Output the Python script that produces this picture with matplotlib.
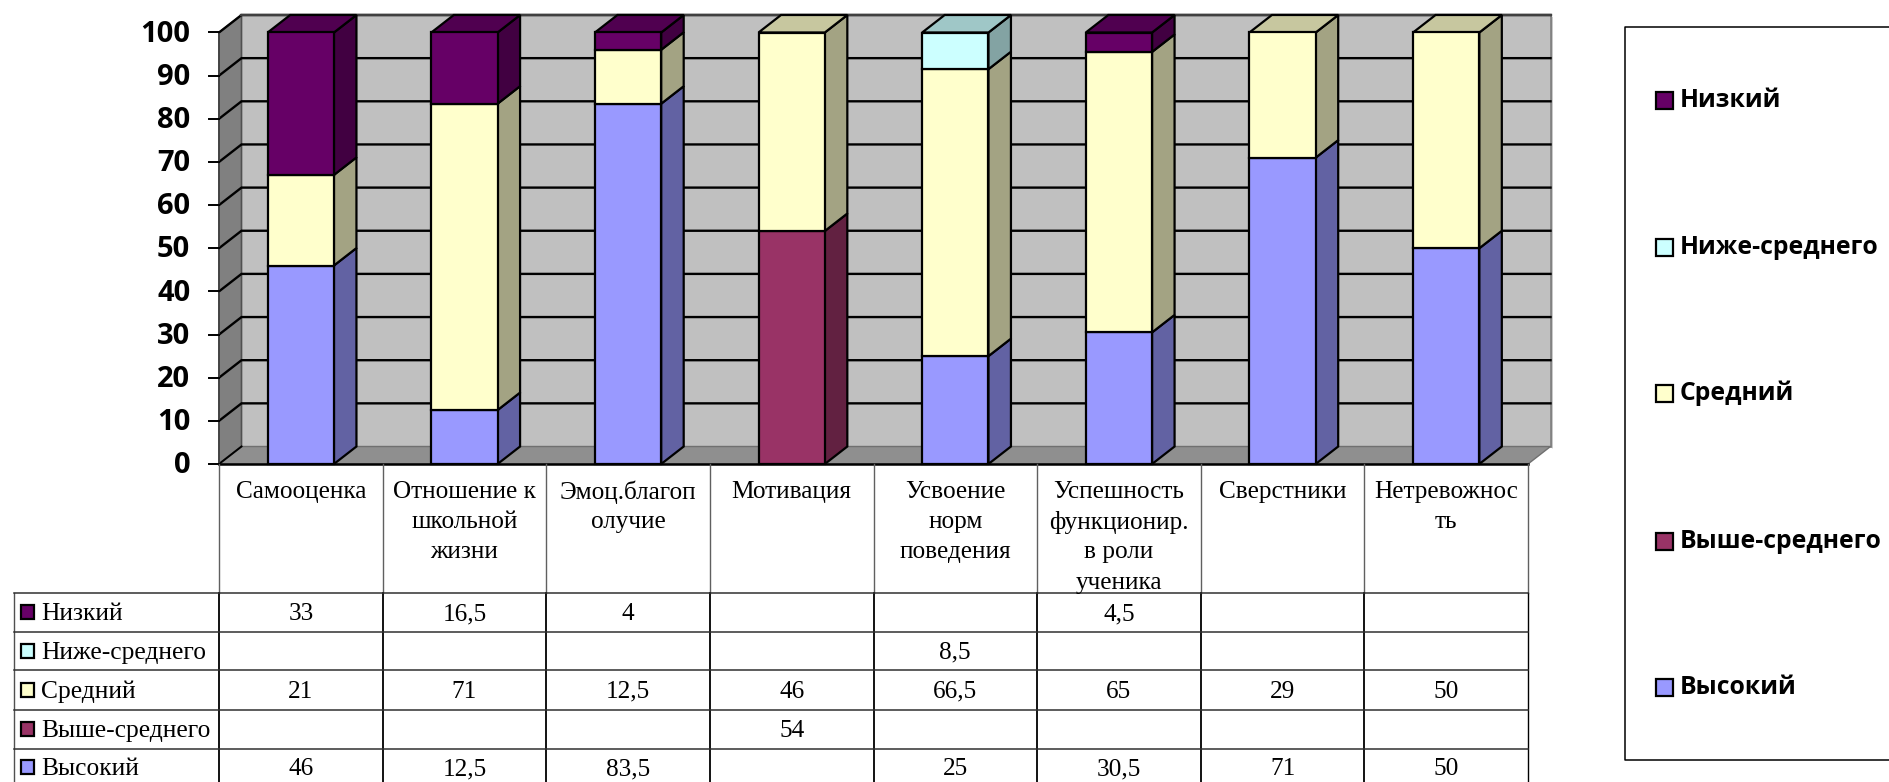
import matplotlib
matplotlib.use("Agg")
import matplotlib.pyplot as plt
from matplotlib.patches import Polygon, Rectangle
from matplotlib.colors import to_rgb

W, H = 1890, 782

categories = ["Самооценка", "Отношение к\nшкольной\nжизни", "Эмоц.благоп\nолучие", "Мотивация",
              "Усвоение\nнорм\nповедения", "Успешность\nфункционир.\nв роли\nученика", "Сверстники",
              "Нетревожнос\nть"]
levels = ["Низкий", "Ниже-среднего", "Средний", "Выше-среднего", "Высокий"]
low = [33, 16.5, 4, None, None, 4.5, None, None]
below_mid = [None, None, None, None, 8.5, None, None, None]
mid = [21, 71, 12.5, 46, 66.5, 65, 29, 50]
above_mid = [None, None, None, 54, None, None, None, None]
high = [46, 12.5, 83.5, None, 25, 30.5, 71, 50]
series = [low, below_mid, mid, above_mid, high]
colors = ["#660066", "#CCFFFF", "#FFFFCC", "#993366", "#9999FF"]
yticks = list(range(0, 101, 10))


def shade(c, k):
    return tuple(v * k for v in to_rgb(c))


def fmt(v):
    return "" if v is None else f"{v:g}".replace(".", ",")


fig = plt.figure(figsize=(W / 100, H / 100), dpi=100, facecolor="white")

# chart axes sit on the front plane of the 3d box
L, R, T, B = 219, 1528, 32.5, 464
ax = fig.add_axes([L / W, 1 - B / H, (R - L) / W, (B - T) / H])
ax.set_xlim(0, 8)
ax.set_ylim(0, 100)
ax.axis("off")
dx = 22.5 / ((R - L) / 8)
dy = 17.5 / ((B - T) / 100)


def poly(pts, fc, ec="black", lw=1.6, z=1):
    ax.add_patch(Polygon(pts, closed=True, fc=fc, ec=ec, lw=lw, zorder=z, clip_on=False,
                         joinstyle="miter"))


# walls and floor
poly([(8 + dx + 0.012, dy - 0.5), (8 + dx + 0.012, 100 + dy - 0.5), (8 + dx, 100 + dy), (8 + dx, dy)], "#8c8c8c", "none", 0)
poly([(dx, dy), (8 + dx, dy), (8 + dx, 100 + dy), (dx, 100 + dy)], "#C0C0C0", "#808080", 1.2)
poly([(0, 0), (dx, dy), (dx, 100 + dy), (0, 100)], "#808080", "#505050", 1.2)
poly([(0, 0), (8, 0), (8 + dx, dy), (dx, dy)], "#8f8f8f", "#707070", 1.0)
for t in yticks[1:]:
    ax.plot([0, dx, 8 + dx], [t, t + dy, t + dy], color="black", lw=1.7, zorder=2, clip_on=False,
            solid_joinstyle="miter")
ax.plot([dx, 8 + dx], [100 + dy, 100 + dy], color="#404040", lw=1.7, zorder=2, clip_on=False)
ax.plot([0, dx], [0, dy], color="black", lw=1.4, zorder=2, clip_on=False)
ax.plot([0, 8], [0, 0], color="black", lw=1.8, zorder=7, clip_on=False)
ax.plot([0, 0], [0, 100], color="#404040", lw=1.2, zorder=2, clip_on=False)

# tick marks and labels
for t in yticks:
    ax.plot([-0.06, 0], [t, t], color="black", lw=1.4, clip_on=False, zorder=3)
    ax.text(-0.175, t - 0.4, str(t), ha="right", va="center", fontsize=21, fontweight="bold",
            family="Open Sans", clip_on=False)

# stacked bars, bottom series first
bw = 0.405
for i in range(len(categories)):
    x0 = i + 0.5 - bw / 2
    x1 = x0 + bw
    bottom = 0
    z = 3 + i * 0.01
    for s, c in zip(series[::-1], colors[::-1]):
        v = s[i]
        if not v:
            continue
        top = min(bottom + v, 100)
        poly([(x1, bottom), (x1 + dx, bottom + dy), (x1 + dx, top + dy), (x1, top)], shade(c, 0.64), z=z)
        ax.add_patch(Rectangle((x0, bottom), bw, top - bottom, fc=c, ec="black", lw=1.6, zorder=z + 0.005, clip_on=False))
        last = (c, top)
        bottom = top
    c, top = last
    poly([(x0, top), (x1, top), (x1 + dx, top + dy), (x0 + dx, top + dy)], shade(c, 0.78), z=z)

# data table and legend are laid out in figure pixels
ov = fig.add_axes([0, 0, 1, 1], zorder=5)
ov.set_xlim(0, W)
ov.set_ylim(H, 0)
ov.axis("off")
ov.patch.set_alpha(0)

col_w = (R - L) / 8
row_edges = [593, 632, 670, 710, 748.5, 787]
serif = "Liberation Serif"

for i in range(9):
    x = L + i * col_w
    ov.plot([x, x], [B, 593], color="#606060", lw=1.0)
    ov.plot([x, x], [593, H], color="black", lw=1.3 if i < 8 else 1.0)
ov.plot([13.5, 13.5], [593, H], color="#505050", lw=1.0)
for y in row_edges[:-1]:
    ov.plot([13.5, R], [y, y], color="#303030", lw=1.1)

line_h = 30.2
for i, name in enumerate(categories):
    for k, part in enumerate(name.split("\n")):
        ov.text(L + (i + 0.5) * col_w, 492 + k * line_h, part, ha="center", va="center", fontsize=18.2, family=serif)

for r, (name, vals, c) in enumerate(zip(levels, series, colors)):
    yc = (row_edges[r] + row_edges[r + 1]) / 2 + 1.5
    ov.add_patch(Rectangle((21, yc - 9), 13, 14, fc=c, ec="black", lw=1.6))
    ov.text(41, yc, name, ha="left", va="center", fontsize=18.4, family=serif)
    for i, v in enumerate(vals):
        ov.text(L + (i + 0.5) * col_w, yc, fmt(v), ha="center", va="center", fontsize=18.2, family=serif)

# legend box runs off the right edge
ov.plot([W + 5, 1625, 1625, W + 5], [26.5, 26.5, 760, 760], color="black", lw=1.1)
leg_y = [100, 247, 393, 541, 687]
for name, c, y in zip(levels, colors, leg_y):
    ov.add_patch(Rectangle((1656, y - 8.5), 17, 17, fc=c, ec="black", lw=1.6))
    ov.text(1680, y + 0.5, name, ha="left", va="center", fontsize=17.8, fontweight="bold", family="Open Sans")

fig.savefig("out.png", dpi=100)
